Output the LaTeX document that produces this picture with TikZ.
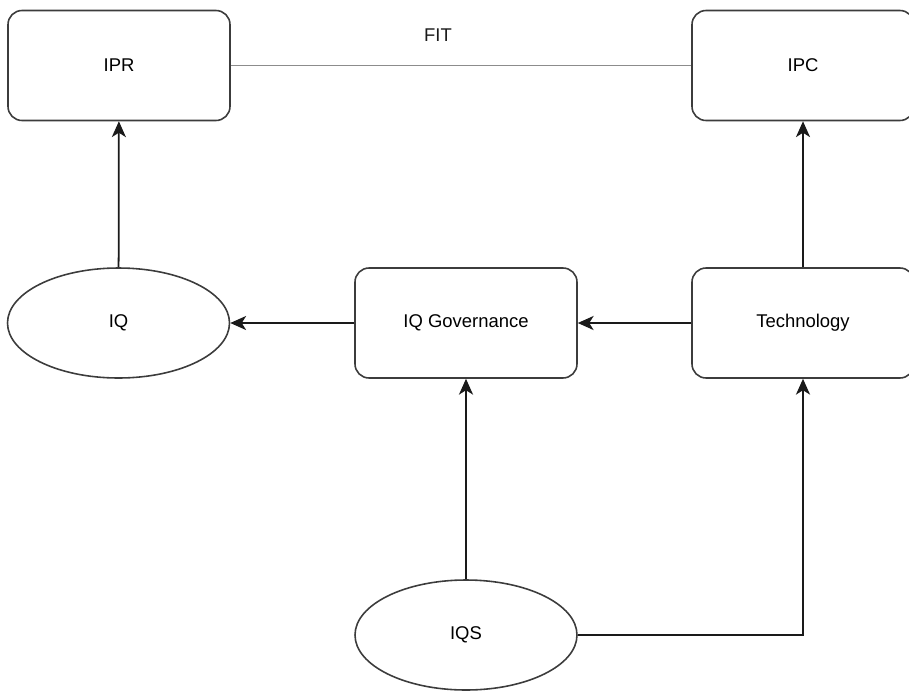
\documentclass[tikz,border=0pt]{standalone}
\usepackage{fontspec}
\setmainfont{Liberation Sans}
\usetikzlibrary{arrows.meta, positioning, shapes.geometric}
\definecolor{diagink}{HTML}{1A1A1A}
\definecolor{fitline}{HTML}{8C8C8C}

\begin{document}
\begin{tikzpicture}[
    >={Stealth[length=9pt, width=8pt, inset=2.5pt]},
    font=\fontsize{10.5}{12}\selectfont,
    box/.style={draw=diagink!85, rounded corners=8pt, line width=0.9pt,
                minimum width=4.44cm, minimum height=2.2cm, inner sep=0pt},
    blob/.style={ellipse, draw=diagink!85, line width=0.9pt,
                 minimum width=4.44cm, minimum height=2.2cm, inner sep=0pt},
    link/.style={->, line width=1pt, diagink},
]
\useasboundingbox (0,0) rectangle (18.18,-13.82);

% top row
\node[box] (IPR) at (2.38,-1.31) {IPR};
\node[box] (IPC) at (16.06,-1.31) {IPC};

% middle row
\node[blob] (IQ)   at (2.37,-6.46)  {IQ};
\node[box]  (gov)  at (9.32,-6.46)  {IQ Governance};
\node[box]  (tech) at (16.06,-6.46) {Technology};

% bottom
\node[blob] (IQS) at (9.32,-12.7) {IQS};

\draw[line width=0.6pt, fitline] (IPR) -- node[pos=0.45, above=0.36cm, text=diagink] {FIT} (IPC);

\draw[link] (IQ) -- (IPR);
\draw[link] (tech) -- (IPC);
\draw[link] (gov) -- (IQ);
\draw[link] (tech) -- (gov);
\draw[link] (IQS) -- (gov);
\draw[link] (IQS.east) -| (tech.south);

\end{tikzpicture}
\end{document}
